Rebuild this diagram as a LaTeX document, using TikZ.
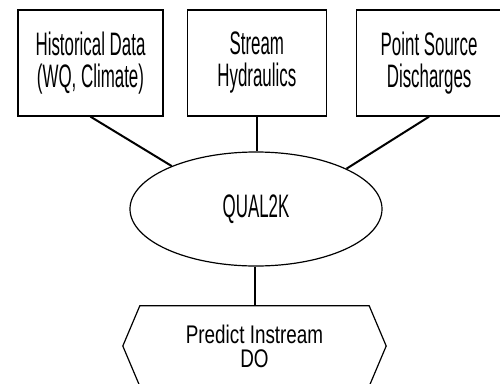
\documentclass[tikz,border=0pt]{standalone}
\usepackage{fontspec}
\usetikzlibrary{shapes.geometric,positioning}
\newfontfamily\boxfont[FakeStretch=0.52]{Liberation Sans}
\newfontfamily\hexfont[FakeStretch=0.74]{Liberation Sans}

\begin{document}
\begin{tikzpicture}[x=1pt, y=-1pt,
  inbox/.style={draw, rectangle, line width=1.3pt, minimum width=145pt, minimum height=106pt,
    align=center, font=\boxfont\fontsize{32.5}{32}\selectfont},
  model/.style={draw, ellipse, line width=1.2pt, minimum width=252pt, minimum height=114pt,
    inner sep=0pt, font=\boxfont\fontsize{32.5}{32}\selectfont},
  link/.style={line width=2pt}]
\useasboundingbox (0,0) rectangle (500,383);
% nodes
\node[inbox] (hist) at (90.5,63) {Historical Data\\(WQ, Climate)};
\node[inbox, minimum width=139pt, right=23pt of hist] (hydr) {Stream\\Hydraulics};
\node[inbox, right=29pt of hydr] (point) {Point Source\\Discharges};
\node[model] (qual) at (256,209) {\raisebox{4pt}{QUAL2K}};
\node[rectangle, minimum width=229pt, minimum height=80pt, align=center,
  font=\hexfont\fontsize{25.5}{24}\selectfont] (pred) at (254.5,346) {Predict Instream\\DO};
\draw[line width=1.2pt] (pred.north west) -- (pred.north east) -- ([xshift=17pt]pred.east)
  -- (pred.south east) -- (pred.south west) -- ([xshift=-17pt]pred.west) -- cycle;

% links
\draw[link] (hist.south) -- (qual.153);
\draw[link] (hydr.south) -- (hydr.south |- qual.north);
\draw[link] (point.south) -- (qual.24);
\draw[link] (qual.south -| pred.north) -- (pred.north);
\end{tikzpicture}
\end{document}
